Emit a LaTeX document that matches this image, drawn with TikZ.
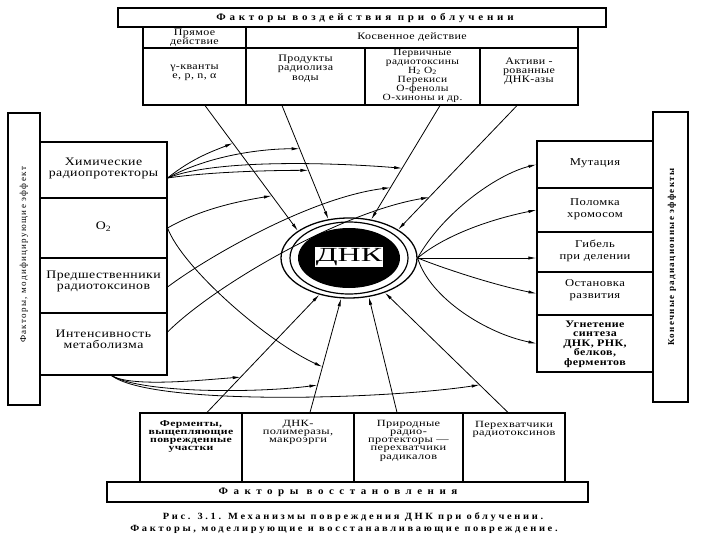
\documentclass[tikz,border=0pt]{standalone}
\usepackage{fontspec}
\setmainfont{Liberation Serif}
\newfontfamily\cellf[FakeStretch=1.2,LetterSpace=4]{Liberation Serif}
\newfontfamily\smallf[FakeStretch=1.3,LetterSpace=4]{Liberation Serif}
\newfontfamily\titlef[FakeStretch=1.1,LetterSpace=38]{Liberation Serif}
\newfontfamily\wtitlef[FakeStretch=1.1,LetterSpace=55]{Liberation Serif}
\newfontfamily\capf[FakeStretch=1.1,LetterSpace=28]{Liberation Serif}
\newfontfamily\dnaf[FakeStretch=1.6]{Liberation Serif}
\newfontfamily\vertf[LetterSpace=15]{Liberation Serif}
\usetikzlibrary{arrows.meta,calc,shapes.geometric}
\begin{document}
\begin{tikzpicture}[x=1pt,y=-1pt,
  box/.style={draw,line width=1.1pt,inner sep=0pt,rectangle},
  bar/.style={draw,line width=1.4pt,inner sep=0pt,rectangle},
  lbl/.style={inner sep=0pt,align=center,font=\cellf\fontsize{10}{9.2}\selectfont},
  lbll/.style={inner sep=0pt,align=center,font=\cellf\fontsize{11.5}{11}\selectfont},
  lblr/.style={inner sep=0pt,align=center,font=\cellf\fontsize{10.5}{12}\selectfont},
  lbls/.style={inner sep=0pt,align=center,font=\smallf\fontsize{9.5}{8.2}\selectfont},
  conn/.style={line width=0.8pt,-{Latex[length=8pt,width=3.2pt]}},
]
\fill[white] (0,0) rectangle (720,540);
\useasboundingbox (0,0) rectangle (720,540);

% ---------- top ----------
\node[bar,minimum width=488,minimum height=19] (toptitle) at (362,17.5) {};
\node[inner sep=0pt,font=\titlef\bfseries\fontsize{10}{10}\selectfont] (toptitleT) at (365,18) {Факторы воздействия при облучении};

\node[box,minimum width=103,minimum height=21] (pryam) at (194.5,37.5) {};
\node[box,minimum width=332,minimum height=21] (kosv) at (412,37.5) {};
\node[box,minimum width=103,minimum height=57] (gamma) at (194.5,76.5) {};
\node[box,minimum width=119,minimum height=57] (prod) at (305.5,76.5) {};
\node[box,minimum width=115,minimum height=57] (perv) at (422.5,76.5) {};
\node[box,minimum width=98,minimum height=57] (aktiv) at (529,76.5) {};

\node[lbl] (pryamT) at (194.5,37.5) {Прямое\\действие};
\node[lbl] (kosvT) at (412,37) {Косвенное действие};
\node[lbl] (gammaT) at (194.5,72.5) {γ-кванты\\e, p, n, α};
\node[lbl] (prodT) at (305.5,68.5) {Продукты\\радиолиза\\воды};
\node[lbl,font=\cellf\fontsize{9.5}{8.9}\selectfont] (pervT) at (422.5,76) {Первичные\\радиотоксины\\H\textsubscript{2} O\textsubscript{2}\\Перекиси\\О-фенолы\\О-хиноны и др.};
\node[lbl] (aktivT) at (529,71) {Активи -\\рованные\\ДНК-азы};

% ---------- left ----------
\node[bar,minimum width=32,minimum height=292] (lbar) at (24,259) {};
\node[inner sep=0pt,rotate=90,font=\vertf\fontsize{9}{9}\selectfont] (lbarT) at (24,255) {Факторы, модифицирующие эффект};

\node[box,minimum width=127,minimum height=56] (chem) at (103.5,170) {};
\node[box,minimum width=127,minimum height=60] (o2) at (103.5,228) {};
\node[box,minimum width=127,minimum height=55] (pred) at (103.5,285.5) {};
\node[box,minimum width=127,minimum height=62] (inten) at (103.5,344) {};

\node[lbll] (chemT) at (103.5,168) {Химические\\радиопротекторы};
\node[lbll] (o2T) at (103.5,227) {O\textsubscript{2}};
\node[lbll] (predT) at (103.5,281) {Предшественники\\радиотоксинов};
\node[lbll] (intenT) at (103.5,339) {Интенсивность\\метаболизма};

% ---------- right ----------
\node[bar,minimum width=35,minimum height=290] (rbar) at (670.5,257) {};
\node[inner sep=0pt,rotate=90,font=\vertf\bfseries\fontsize{9}{9}\selectfont] (rbarT) at (672,257) {Конечные радиационные эффекты};

\node[box,minimum width=116,minimum height=47] (mut) at (595,164.5) {};
\node[box,minimum width=116,minimum height=44] (polom) at (595,210) {};
\node[box,minimum width=116,minimum height=40] (gibel) at (595,252) {};
\node[box,minimum width=116,minimum height=43] (ostan) at (595,293.5) {};
\node[box,minimum width=116,minimum height=57] (ugnet) at (595,343.5) {};

\node[lblr] (mutT) at (595,163) {Мутация};
\node[lblr] (polomT) at (595,209) {Поломка\\хромосом};
\node[lblr] (gibelT) at (595,251) {Гибель\\при делении};
\node[lblr] (ostanT) at (595,290) {Остановка\\развития};
\node[lbl,font=\cellf\bfseries\fontsize{10}{9.6}\selectfont] (ugnetT) at (595,344) {Угнетение\\синтеза\\ДНК, РНК,\\белков,\\ферментов};

% ---------- bottom ----------
\node[box,minimum width=102,minimum height=69] (ferm) at (191,447.5) {};
\node[box,minimum width=112,minimum height=69] (dnkpol) at (298,447.5) {};
\node[box,minimum width=109,minimum height=69] (prir) at (408.5,447.5) {};
\node[box,minimum width=102,minimum height=69] (pereh) at (514,447.5) {};
\node[bar,minimum width=481,minimum height=20] (bottitle) at (347.5,492) {};
\node[inner sep=0pt,font=\wtitlef\bfseries\fontsize{10}{10}\selectfont] (bottitleT) at (338,492.5) {Факторы восстановления};

\node[lbls,font=\smallf\bfseries\fontsize{9}{8.2}\selectfont] (fermT) at (191,436.5) {Ферменты,\\выщепляющие\\поврежденные\\участки};
\node[lbls] (dnkpolT) at (298,432.5) {ДНК-\\полимеразы,\\макроэрги};
\node[lbls] (prirT) at (408.5,440.5) {Природные\\радио-\\протекторы —\\перехватчики\\радикалов};
\node[lbls] (perehT) at (514,429) {Перехватчики\\радиотоксинов};

\node[inner sep=0pt,font=\capf\bfseries\fontsize{9.5}{9}\selectfont] (cap1) at (353,517) {Рис. 3.1. Механизмы повреждения ДНК при облучении.};
\node[inner sep=0pt,font=\capf\bfseries\fontsize{9.5}{9}\selectfont] (cap2) at (344,529) {Факторы, моделирующие и восстанавливающие повреждение.};

% ---------- DNA ----------
\node[ellipse,draw,line width=1.3pt,minimum width=136,minimum height=80,inner sep=0pt] (dna) at (349,258) {};
\node[ellipse,draw,line width=1.2pt,minimum width=118,minimum height=72,inner sep=0pt] (dnamid) at (dna) {};
\node[ellipse,fill=black,minimum width=102,minimum height=60,inner sep=0pt] (dnacore) at (dna) {};
\node[fill=white,inner sep=1pt,font=\dnaf\fontsize{20}{20}\selectfont] (dnaT) at (349,257) {ДНК};

% ---------- connectors from top ----------
\coordinate (gs) at ($(gamma.south)+(10.5,0)$);
\coordinate (ps) at ($(prod.south)+(-23.5,0)$);
\coordinate (vs) at ($(perv.south)+(17.5,0)$);
\coordinate (as) at ($(aktiv.south)+(-12,0)$);
\draw[conn] (gs) -- (dna.152);
\draw[conn] (ps) -- (dna.118);
\draw[conn] (vs) -- (dna.60);
\draw[conn] (as) -- (dna.30);

% ---------- connectors from bottom ----------
\coordinate (fs) at ($(ferm.north)+(16,0)$);
\coordinate (ds) at ($(dnkpol.north)+(12,0)$);
\coordinate (rs) at ($(prir.north)+(-11.5,0)$);
\coordinate (hs) at ($(pereh.north)+(-6,0)$);
\draw[conn] (fs) -- (dna.231);
\draw[conn] (ds) -- (dna.259);
\draw[conn] (rs) -- (dna.297);
\draw[conn] (hs) -- (dna.316);

% points on the arrows
\coordinate (pa) at ($(gs)!0.30!(dna.152)$);
\coordinate (pe) at ($(gs)!0.72!(dna.152)$);
\coordinate (pb) at ($(ps)!0.38!(dna.118)$);
\coordinate (pd) at ($(ps)!0.57!(dna.118)$);
\coordinate (pc) at ($(vs)!0.55!(dna.60)$);
\coordinate (pf) at ($(vs)!0.72!(dna.60)$);
\coordinate (pg) at ($(as)!0.74!(dna.30)$);
\coordinate (q1) at ($(fs)!0.30!(dna.231)$);
\coordinate (q2) at ($(ds)!0.24!(dna.259)$);
\coordinate (qo) at ($(ds)!0.40!(dna.259)$);
\coordinate (q3) at ($(hs)!0.23!(dna.316)$);

% ---------- modifying factors ----------
\coordinate (s1) at ($(chem.east)+(0,8)$);
\coordinate (s2) at (o2.east);
\coordinate (s3) at ($(pred.east)+(0,1.5)$);
\coordinate (s4) at ($(inten.east)+(0,-12)$);
\coordinate (s5) at ($(inten.south)+(8,0)$);

\draw[conn] (s1) .. controls +(25,-20) and +(-20,8) .. (pa);
\draw[conn] (s1) .. controls +(40,-22) and +(-40,0) .. (pb);
\draw[conn] (s1) .. controls +(50,-20) and +(-60,-5) .. (pc);
\draw[conn] (s1) .. controls +(40,-6) and +(-40,0) .. (pd);
\draw[conn] (s2) .. controls +(35,-20) and +(-30,5) .. (pe);
\draw[conn] (s2) .. controls +(15,40) and +(-55,-25) .. (qo);
\draw[conn] (s3) .. controls +(40,-30) and +(-80,10) .. (pf);
\draw[conn] (s4) .. controls +(45,-45) and +(-90,15) .. (pg);
\draw[conn] (s5) .. controls +(20,12) and +(-40,3) .. (q1);
\draw[conn] (s5) .. controls +(30,18) and +(-60,8) .. (q2);
\draw[conn] (s5) .. controls +(40,30) and +(-100,15) .. (q3);

% ---------- effects ----------
\draw[conn] (dna.east) .. controls +(25,-45) and +(-40,10) .. (mut.west);
\draw[conn] (dna.east) .. controls +(30,-25) and +(-40,8) .. (polom.west);
\draw[conn] (dna.east) -- (dna.east -| gibel.west);
\draw[conn] (dna.east) .. controls +(30,12) and +(-40,-8) .. (ostan.west);
\draw[conn] (dna.east) .. controls +(12,40) and +(-50,-10) .. (ugnet.west);
\end{tikzpicture}
\end{document}
